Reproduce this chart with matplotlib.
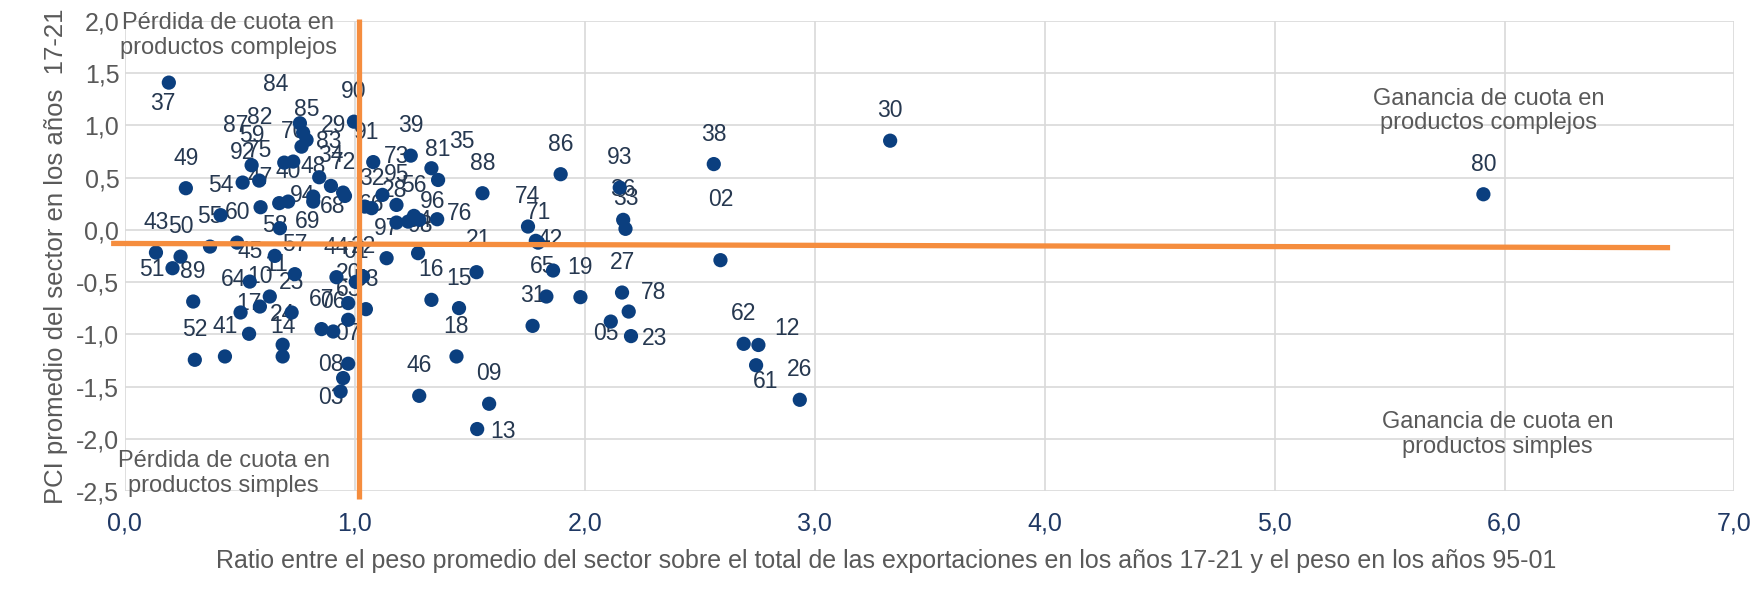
import matplotlib
matplotlib.use("Agg")
import matplotlib.pyplot as plt
from matplotlib.ticker import FuncFormatter, MultipleLocator

plt.rcParams['font.family'] = ['Liberation Sans', 'DejaVu Sans']

# sector codes (HS chapters), ratio of export weight 17-21 / 95-01, mean PCI 17-21
codes = ['37', '49', '54', '92', '59', '75', '47', '70', '40', '48', '34', '72',
         '85', '84', '82', '87', '29', '83', '94', '68', '69', '',
         '90', '91', '39', '73', '35', '81', '32', '66', '95', '28', '98', '56',
         '96', '76', '88', '86', '74', '71', '42', '21', '97', '04', '16', '15',
         '18', '46', '09', '13', '65', '19', '31', '', '93', '36', '33', '38',
         '30', '80', '02', '27', '78', '05', '23', '62', '12', '61', '26',
         '43', '50', '51', '89', '55', '60', '58', '45', '57', '11', '10', '64',
         '17', '25', '24', '14', '52', '41', '44', '22', '01', '20', '53', '63',
         '67', '06', '07', '08', '03']
ratio = [0.191, 0.265, 0.416, 0.512, 0.551, 0.584, 0.590, 0.732, 0.710, 0.819, 0.896, 0.949,
         0.790, 0.761, 0.775, 0.693, 0.768, 0.845, 0.819, 0.957, 0.674, 0.671,
         0.996, 1.080, 1.243, 1.120, 1.333, 1.362, 1.073, 1.043, 1.181, 1.181, 1.232, 1.257,
         1.280, 1.358, 1.555, 1.895, 1.753, 1.797, 1.787, 1.529, 1.138, 1.275, 1.333, 1.453,
         1.442, 1.280, 1.584, 1.532, 1.862, 1.981, 1.773, 1.833, 2.152, 2.167, 2.177, 2.561,
         3.328, 5.908, 2.590, 2.162, 2.191, 2.113, 2.201, 2.691, 2.755, 2.745, 2.935,
         0.135, 0.242, 0.207, 0.297, 0.370, 0.488, 0.652, 0.543, 0.739, 0.630, 0.587, 0.503,
         0.540, 0.725, 0.686, 0.686, 0.304, 0.435, 0.920, 1.036, 1.004, 0.971, 1.048, 0.971,
         0.855, 0.906, 0.971, 0.949, 0.938]
pci = [1.410, 0.399, 0.141, 0.453, 0.619, 0.472, 0.217, 0.654, 0.271, 0.319, 0.421, 0.357,
       0.861, 1.021, 0.931, 0.644, 0.797, 0.504, 0.271, 0.325, 0.016, 0.256,
       1.036, 0.649, 0.711, 0.335, 0.590, 0.478, 0.208, 0.223, 0.239, 0.070, 0.079, 0.134,
       0.096, 0.102, 0.351, 0.533, 0.032, -0.122, -0.105, -0.405, -0.271, -0.223, -0.670, -0.749,
       -1.212, -1.589, -1.665, -1.907, -0.389, -0.644, -0.919, -0.638, 0.405, 0.096, 0.010, 0.630,
       0.854, 0.341, -0.290, -0.600, -0.782, -0.878, -1.017, -1.091, -1.102, -1.296, -1.627,
       -0.217, -0.256, -0.367, -0.686, -0.160, -0.122, -0.249, -0.495, -0.424, -0.638, -0.734, -0.791,
       -0.995, -0.791, -1.100, -1.212, -1.244, -1.212, -0.453, -0.447, -0.498, -0.701, -0.759, -0.861,
       -0.950, -0.973, -1.282, -1.419, -1.547]

# split lines (hand drawn in the original)
h_line_x = [-0.06, 6.72]
h_line_y = [-0.13, -0.17]
v_line_x = [1.02, 1.02]
v_line_y = [2.02, -2.58]

# label offsets in pixels (default: centred above the dot)
default_off = (0, 30)
label_off = {'37': (-6, -21), '84': (-24, 39), '82': (-43, 15), '87': (-49, 37),
             '29': (32, 21), '83': (10, 36), '94': (-11, 6), '68': (-12, -11),
             '69': (28, 7), '91': (-7, 30), '73': (14, 38), '35': (30, 27),
             '66': (7, 2), '98': (12, -4), '96': (13, 18), '76': (22, 6),
             '42': (14, 1), '13': (26, -2), '65': (-10, 4), '02': (0, 61),
             '78': (25, 19), '05': (-5, -12), '23': (24, -2), '12': (29, 16),
             '61': (10, -16), '51': (-21, -1), '08': (-12, 14), '03': (-10, -6),
             '28': (-2, 32), '21': (2, 33), '04': (1, 33), '11': (6, 32), '64': (-7, 33)}

dot_color = '#0B3F7F'
orange = '#F58D3E'
gray = '#595959'
navy = '#1F3864'

fig = plt.figure(figsize=(17.52, 6.0), dpi=100)
ax = fig.add_axes([0.0713, 0.1817, 0.9187, 0.7833])

ax.set_xlim(0, 7)
ax.set_ylim(-2.5, 2.0)
ax.xaxis.set_major_locator(MultipleLocator(1))
ax.yaxis.set_major_locator(MultipleLocator(0.5))
fmt = FuncFormatter(lambda v, p: f"{v:.1f}".replace('.', ','))
ax.xaxis.set_major_formatter(fmt)
ax.yaxis.set_major_formatter(fmt)
ax.grid(True, color='#D9D9D9', linewidth=1.2)
ax.set_axisbelow(True)
for s in ax.spines.values():
    s.set_visible(False)
ax.tick_params(length=0)
ax.tick_params(axis='x', labelsize=18, labelcolor=navy, pad=15)
ax.tick_params(axis='y', labelsize=18, labelcolor=gray, pad=4)

for c, x, y in zip(codes, ratio, pci):
    if not c:
        continue
    dx, dy = label_off.get(c, default_off)
    ax.annotate(c, (x, y), xytext=(dx, dy), textcoords='offset pixels',
                ha='center', va='center', fontsize=16.5, color='#263850', zorder=2)

ax.scatter(ratio, pci, s=105, color=dot_color, edgecolors='none', zorder=3)

ax.plot(h_line_x, h_line_y, color=orange, linewidth=3.8, zorder=4, clip_on=False,
        solid_capstyle='butt')
ax.plot(v_line_x, v_line_y, color=orange, linewidth=3.8, zorder=4, clip_on=False,
        solid_capstyle='butt')

qkw = dict(ha='center', va='center', fontsize=17, color=gray, linespacing=1.15, zorder=5)
ax.text(0.45, 1.86, 'Pérdida de cuota en\nproductos complejos', **qkw)
ax.text(5.93, 1.14, 'Ganancia de cuota en\nproductos complejos', **qkw)
ax.text(5.97, -1.96, 'Ganancia de cuota en\nproductos simples', **qkw)
ax.text(0.43, -2.33, 'Pérdida de cuota en\nproductos simples', **qkw)

ax.set_ylabel('PCI promedio del sector en los años  17-21', fontsize=18.5, color=gray, labelpad=6)
fig.text(0.506, 0.065,
         'Ratio entre el peso promedio del sector sobre el total de las exportaciones '
         'en los años 17-21 y el peso en los años 95-01',
         ha='center', va='center', fontsize=18, color=gray)

fig.savefig('out.png', dpi=100)
